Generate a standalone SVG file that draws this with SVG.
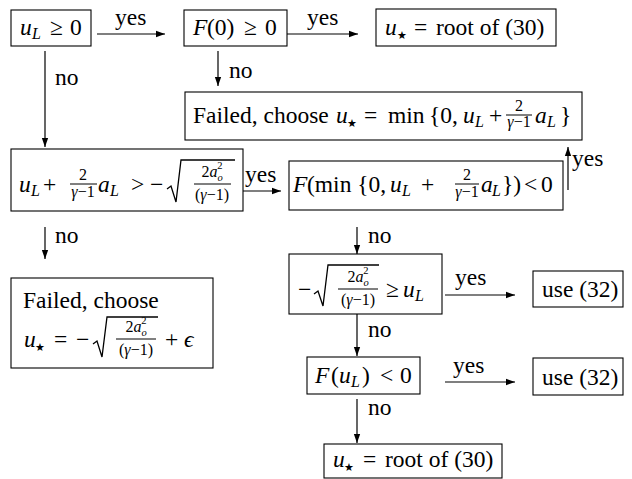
<svg xmlns="http://www.w3.org/2000/svg" width="632" height="479" viewBox="0 0 632 479">
<defs>
<marker id="ah" viewBox="0 0 10 10" refX="10" refY="5" markerWidth="9" markerHeight="9" markerUnits="userSpaceOnUse" orient="auto"><path d="M0,1.5 L10,5 L0,8.5 z" fill="#000"/></marker>
<style>
.bx{fill:#fff;stroke:#000;stroke-width:1.1}
.ln{fill:none;stroke:#000;stroke-width:1.2;marker-end:url(#ah)}
.bar{stroke:#000;stroke-width:1}
.rad{fill:none;stroke:#000;stroke-width:1.3;stroke-linejoin:miter}
text{font-family:'Liberation Serif', 'Times New Roman', serif;font-size:23.5px;fill:#000}
.i{font-style:italic}
.sb{font-size:16px;font-style:italic}
.f{font-size:16px}
.sp{font-size:10.5px}
.st{font-size:11px;font-family:'DejaVu Sans', sans-serif}
</style>
</defs>
<rect width="632" height="479" fill="#fff"/>

<g id="connectors">
<line class="ln" x1="97" y1="34" x2="165" y2="34"/>
<text x="115" y="25">yes</text>
<line class="ln" x1="287" y1="34" x2="358" y2="34"/>
<text x="307" y="25">yes</text>
<line class="ln" x1="45" y1="51" x2="45" y2="147"/>
<text x="55" y="85">no</text>
<line class="ln" x1="218" y1="51" x2="218" y2="86"/>
<text x="229" y="78">no</text>
<line class="ln" x1="243" y1="191" x2="281" y2="191"/>
<text x="245" y="182">yes</text>
<line class="ln" x1="568" y1="190" x2="568" y2="147"/>
<text x="572" y="166">yes</text>
<line class="ln" x1="45" y1="227" x2="45" y2="259"/>
<text x="55" y="243">no</text>
<line class="ln" x1="357" y1="227" x2="357" y2="254"/>
<text x="368" y="243">no</text>
<line class="ln" x1="445" y1="295" x2="515" y2="295"/>
<text x="455" y="285">yes</text>
<line class="ln" x1="357" y1="314" x2="357" y2="356"/>
<text x="368" y="337">no</text>
<line class="ln" x1="445" y1="382" x2="515" y2="382"/>
<text x="453" y="373">yes</text>
<line class="ln" x1="357" y1="399" x2="357" y2="443"/>
<text x="368" y="415">no</text>
</g>

<g id="n1">
<rect class="bx" x="11" y="10" width="80" height="36"/>
<text x="20" y="35" class="i">u</text><text x="32" y="39" class="sb">L</text>
<text x="50" y="35">≥</text><text x="70" y="35">0</text>
</g>

<g id="n2">
<rect class="bx" x="184" y="10" width="103" height="36"/>
<text x="193" y="35" class="i">F</text><text x="207" y="35">(0)</text>
<text x="244" y="35">≥</text><text x="265" y="35">0</text>
</g>

<g id="n3">
<rect class="bx" x="376" y="9" width="180" height="37"/>
<text x="385" y="35" class="i">u</text><text x="397" y="39" class="st">★</text>
<text x="414" y="35">=</text><text x="436" y="35">root of (30)</text>
</g>

<g id="n4">
<rect class="bx" x="185" y="92" width="397" height="48"/>
<text x="193" y="123">Failed, choose</text>
<text x="336" y="123" class="i">u</text><text x="347" y="127" class="st">★</text>
<text x="364" y="123">=</text>
<text x="388" y="123">min</text>
<text x="429" y="123">{0,</text>
<text x="463" y="123" class="i">u</text><text x="475" y="127" class="sb">L</text>
<text x="489" y="123">+</text>
<text x="519" y="111" class="f" text-anchor="middle">2</text>
<line class="bar" x1="506" y1="115" x2="532" y2="115"/>
<text x="519" y="127" class="f" text-anchor="middle"><tspan class="i">γ</tspan>−1</text>
<text x="535" y="123" class="i">a</text><text x="547" y="127" class="sb">L</text>
<text x="560" y="123">}</text>
</g>

<g id="n5">
<rect class="bx" x="11" y="149" width="232" height="62"/>
<text x="19" y="192" class="i">u</text><text x="31" y="196" class="sb">L</text>
<text x="43" y="192">+</text>
<text x="83" y="180" class="f" text-anchor="middle">2</text>
<line class="bar" x1="70" y1="184" x2="97" y2="184"/>
<text x="83" y="197" class="f" text-anchor="middle"><tspan class="i">γ</tspan>−1</text>
<text x="98" y="192" class="i">a</text><text x="110" y="196" class="sb">L</text>
<text x="131" y="192">&gt;</text>
<text x="150" y="192">−</text>
<path class="rad" d="M167,189 L171,186 L176,202 L181,160 L235,160"/>
<text x="212" y="177" class="f" text-anchor="middle">2<tspan class="i">a</tspan><tspan class="sp i" dy="4">o</tspan><tspan class="sp" dx="-5.5" dy="-12">2</tspan></text>
<line class="bar" x1="194" y1="184" x2="231" y2="184"/>
<text x="212" y="200" class="f" text-anchor="middle">(<tspan class="i">γ</tspan>−1)</text>
</g>

<g id="n6">
<rect class="bx" x="289" y="161" width="274" height="49"/>
<text x="293" y="192" class="i">F</text>
<text x="307" y="192">(min {0,</text>
<text x="390" y="192" class="i">u</text><text x="402" y="196" class="sb">L</text>
<text x="421" y="192">+</text>
<text x="467" y="180" class="f" text-anchor="middle">2</text>
<line class="bar" x1="455" y1="184" x2="479" y2="184"/>
<text x="467" y="197" class="f" text-anchor="middle"><tspan class="i">γ</tspan>−1</text>
<text x="481" y="192" class="i">a</text><text x="492" y="196" class="sb">L</text>
<text x="502" y="192">})</text>
<text x="524" y="192">&lt;</text>
<text x="541" y="192">0</text>
</g>

<g id="n7">
<rect class="bx" x="11" y="278" width="202" height="90"/>
<text x="23" y="308">Failed, choose</text>
<text x="24" y="347" class="i">u</text><text x="35" y="351" class="st">★</text>
<text x="54" y="347">=</text>
<text x="76" y="347">−</text>
<path class="rad" d="M93,344 L97,341 L102,357 L107,317 L158,317"/>
<text x="136" y="332" class="f" text-anchor="middle">2<tspan class="i">a</tspan><tspan class="sp i" dy="4">o</tspan><tspan class="sp" dx="-5.5" dy="-12">2</tspan></text>
<line class="bar" x1="116" y1="339" x2="156" y2="339"/>
<text x="136" y="355" class="f" text-anchor="middle">(<tspan class="i">γ</tspan>−1)</text>
<text x="165" y="347">+</text>
<text x="184" y="347" class="i">ϵ</text>
</g>

<g id="n8">
<rect class="bx" x="289" y="254" width="153" height="60"/>
<text x="298" y="297">−</text>
<path class="rad" d="M314,294 L318,291 L323,306 L328,265 L379,265"/>
<text x="358" y="282" class="f" text-anchor="middle">2<tspan class="i">a</tspan><tspan class="sp i" dy="4">o</tspan><tspan class="sp" dx="-5.5" dy="-12">2</tspan></text>
<line class="bar" x1="338" y1="289" x2="378" y2="289"/>
<text x="358" y="305" class="f" text-anchor="middle">(<tspan class="i">γ</tspan>−1)</text>
<text x="386" y="297">≥</text>
<text x="403" y="297" class="i">u</text><text x="415" y="301" class="sb">L</text>
</g>

<g id="n9">
<rect class="bx" x="533" y="271" width="90" height="36"/>
<text x="542" y="297">use (32)</text>
</g>

<g id="n10">
<rect class="bx" x="307" y="357" width="113" height="37"/>
<text x="315" y="383" class="i">F</text><text x="331" y="383">(</text>
<text x="339" y="383" class="i">u</text><text x="351" y="387" class="sb">L</text>
<text x="362" y="383">)</text>
<text x="380" y="383">&lt;</text>
<text x="400" y="383">0</text>
</g>

<g id="n11">
<rect class="bx" x="533" y="358" width="90" height="37"/>
<text x="542" y="385">use (32)</text>
</g>

<g id="n12">
<rect class="bx" x="324" y="444" width="178" height="34"/>
<text x="333" y="467" class="i">u</text><text x="344" y="471" class="st">★</text>
<text x="363" y="467">=</text><text x="385" y="467">root of (30)</text>
</g>
</svg>
